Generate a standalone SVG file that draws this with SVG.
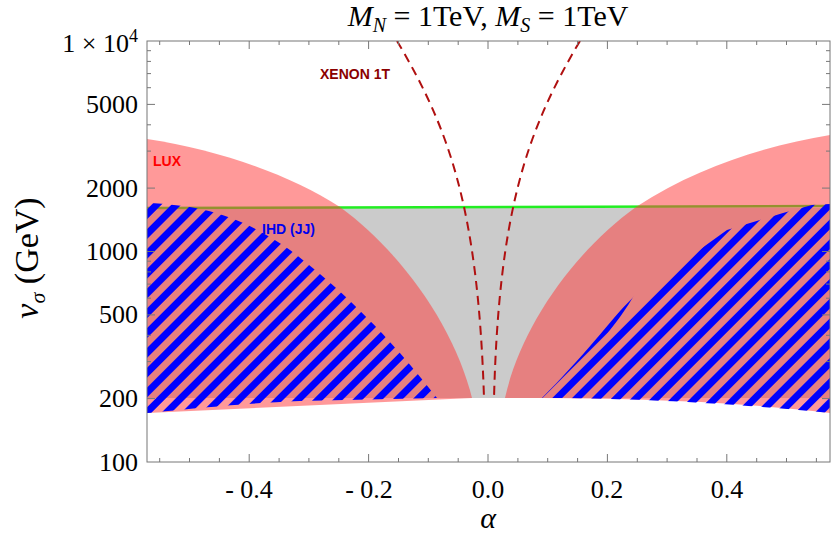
<svg xmlns="http://www.w3.org/2000/svg" width="831" height="537" viewBox="0 0 831 537">
<style>
.tk{stroke:#777;stroke-width:1;fill:none}
.num{font-family:"Liberation Serif",serif;font-size:26px;fill:#000}
.lab{font-family:"Liberation Sans",sans-serif;font-weight:bold;font-size:14px}
</style>
<defs>
<pattern id="hatch" width="14" height="14" patternUnits="userSpaceOnUse" patternTransform="rotate(45)">
<rect x="0" y="0" width="7" height="14" fill="#0000ff"/>
</pattern>
<clipPath id="plot"><rect x="147" y="41" width="683" height="421"/></clipPath>
</defs>
<rect width="831" height="537" fill="#fff"/>
<g id="regions" clip-path="url(#plot)">
<rect x="147" y="208" width="683" height="190" fill="#cbcbcb"/>
<path d="M147,208 L830,206" stroke="#22ee22" stroke-width="2.5" fill="none"/>
<path d="M147,139 C220,150 290,175 340,207 C405,255 455,330 472,398 L147,413 Z" fill="#ff3c3c" fill-opacity="0.52"/>
<path d="M505,398 C520,330 570,255 636,207 C700,165 770,145 830,135 L830,413 C720,400 620,398 505,398 Z" fill="#ff3c3c" fill-opacity="0.52"/>
<path d="M147,203 C200,205 240,215 290,250 C350,295 400,350 437,398 L300,401 C230,404 180,410 147,413 Z" fill="url(#hatch)"/>
<path d="M542,398 C580,360 612,320 636,292 C626,310 614,325 604,338 C640,300 680,265 702,248 L727,230 L783,213 L812,205 L830,204 L830,413 C720,402 620,398 542,398 Z" fill="url(#hatch)"/>
<path d="M397,41 C450,130 478,210 484,398" stroke="#b01010" stroke-width="2" stroke-dasharray="9,6" fill="none"/>
<path d="M580,41 C527,130 499,210 494,398" stroke="#b01010" stroke-width="2" stroke-dasharray="9,6" fill="none"/>
</g>
<g id="frame">
<rect x="147" y="41" width="683" height="421" class="tk"/>
<path class="tk" d="M147,398.6h8M147,361.6h4M147,335.3h4M147,314.9h8M147,298.2h4M147,284.1h4M147,271.9h4M147,261.2h4M147,251.5h8M147,188.1h8M147,151.1h4M147,124.8h4M147,104.4h8M147,87.7h4M147,73.6h4M147,61.4h4M147,50.7h4"/>
<path class="tk" d="M830,398.6h-8M830,361.6h-4M830,335.3h-4M830,314.9h-8M830,298.2h-4M830,284.1h-4M830,271.9h-4M830,261.2h-4M830,251.5h-8M830,188.1h-8M830,151.1h-4M830,124.8h-4M830,104.4h-8M830,87.7h-4M830,73.6h-4M830,61.4h-4M830,50.7h-4"/>
<path class="tk" d="M249.2,462v-8M368.6,462v-8M488,462v-8M607.4,462v-8M726.8,462v-8M159.7,462v-4M189.5,462v-4M219.4,462v-4M279.1,462v-4M308.9,462v-4M338.8,462v-4M398.5,462v-4M428.3,462v-4M458.2,462v-4M517.9,462v-4M547.7,462v-4M577.6,462v-4M637.3,462v-4M667.1,462v-4M697,462v-4M756.7,462v-4M786.5,462v-4M816.4,462v-4"/>
<path class="tk" d="M249.2,41v8M368.6,41v8M488,41v8M607.4,41v8M726.8,41v8M159.7,41v4M189.5,41v4M219.4,41v4M279.1,41v4M308.9,41v4M338.8,41v4M398.5,41v4M428.3,41v4M458.2,41v4M517.9,41v4M547.7,41v4M577.6,41v4M637.3,41v4M667.1,41v4M697,41v4M756.7,41v4M786.5,41v4M816.4,41v4"/>
</g>
<g id="labels">
<text class="lab" x="320" y="79" fill="#8b0000">XENON 1T</text>
<text class="lab" x="153" y="166" fill="#ff0000">LUX</text>
<text class="lab" x="262" y="234" fill="#0000ee">IHD (JJ)</text>
</g>
<g id="axes-text" class="num">
<text x="138" y="52" text-anchor="end">1 × 10<tspan font-size="18" dy="-10">4</tspan></text>
<text x="138" y="113" text-anchor="end">5000</text>
<text x="138" y="197" text-anchor="end">2000</text>
<text x="138" y="260" text-anchor="end">1000</text>
<text x="138" y="323" text-anchor="end">500</text>
<text x="138" y="407" text-anchor="end">200</text>
<text x="138" y="471" text-anchor="end">100</text>
<text x="249" y="498" text-anchor="middle">- 0.4</text>
<text x="369" y="498" text-anchor="middle">- 0.2</text>
<text x="488" y="498" text-anchor="middle">0.0</text>
<text x="607" y="498" text-anchor="middle">0.2</text>
<text x="727" y="498" text-anchor="middle">0.4</text>
<text x="488" y="528" text-anchor="middle" font-style="italic" font-size="30">α</text>
<text x="488" y="26" text-anchor="middle" font-size="30"><tspan font-style="italic">M</tspan><tspan font-style="italic" font-size="20" dy="6">N</tspan><tspan dy="-6"> = 1TeV, </tspan><tspan font-style="italic">M</tspan><tspan font-style="italic" font-size="20" dy="6">S</tspan><tspan dy="-6"> = 1TeV</tspan></text>
<text transform="translate(38,258) rotate(-90)" text-anchor="middle" font-size="34"><tspan font-style="italic">v</tspan><tspan font-style="italic" font-size="22" dy="7">σ</tspan><tspan dy="-7">  (GeV)</tspan></text>
</g>
</svg>
